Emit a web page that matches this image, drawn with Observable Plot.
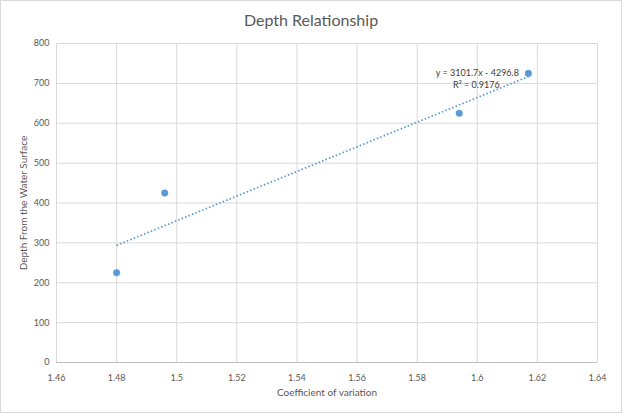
<!DOCTYPE html>
<html><head><meta charset="utf-8">
<script src="https://cdn.jsdelivr.net/npm/d3@7"></script>
<script src="https://cdn.jsdelivr.net/npm/@observablehq/plot@0.6"></script>
<style>
html,body{margin:0;padding:0;background:#fff;}
#wrap{width:622px;height:413px;box-sizing:border-box;border:1px solid #d9d9d9;position:relative;overflow:hidden;font-family:Lato,"Open Sans",sans-serif;}
#title{height:34px;line-height:38px;text-align:center;font-size:16px;color:#595959;}
</style></head>
<body><div id="wrap"><div id="title">Depth Relationship</div><div id="chart"></div></div>
<script>
const coeffVariation = [1.48, 1.496, 1.594, 1.617];
const depth = [225, 425, 625, 725];
const xTicks = [1.46, 1.48, 1.5, 1.52, 1.54, 1.56, 1.58, 1.6, 1.62, 1.64];
const yTicks = [0, 100, 200, 300, 400, 500, 600, 700, 800];
const equationLabel = "y = 3101.7x - 4296.8";
const r2Label = "R² = 0.9176";

const data = coeffVariation.map((x, i) => ({x, y: depth[i]}));
const last = [data[data.length - 1]];
const fmtX = d => String(+d.toFixed(2));

const chart = Plot.plot({
  width: 620, height: 377,
  marginTop: 8, marginBottom: 50, marginLeft: 55, marginRight: 24,
  style: {fontFamily: "Lato, 'Open Sans', sans-serif", fontSize: "9px", color: "#595959", background: "#fff"},
  x: {domain: [1.46, 1.64], ticks: xTicks, tickFormat: fmtX, label: null},
  y: {domain: [0, 800], ticks: yTicks, label: null},
  marks: [
    Plot.gridX(xTicks, {stroke: "#d9d9d9", strokeOpacity: 1}),
    Plot.gridY(yTicks, {stroke: "#d9d9d9", strokeOpacity: 1}),
    Plot.ruleY([0], {stroke: "#bfbfbf"}),
    Plot.axisX(xTicks, {tickSize: 0, tickPadding: 12, tickFormat: fmtX, fill: "#595959"}),
    Plot.axisY(yTicks, {tickSize: 0, tickPadding: 7, fill: "#595959"}),
    Plot.linearRegressionY(data, {x: "x", y: "y", ci: 0, stroke: "#5b9bd5", strokeWidth: 1.8, strokeDasharray: "1.5,2.2", strokeLinecap: "butt"}),
    Plot.dot(data, {x: "x", y: "y", r: 3.3, fill: "#5b9bd5", stroke: "#5b9bd5", strokeWidth: 0.5}),
    Plot.text(last, {x: "x", y: "y", text: () => equationLabel, dx: -51, dy: 0, fontSize: 9, fill: "#404040"}),
    Plot.text(last, {x: "x", y: "y", text: () => r2Label, dx: -52, dy: 12, fontSize: 9, fill: "#404040"}),
    Plot.text(["Coefficient of variation"], {frameAnchor: "bottom", dy: 33, text: d => d, fontSize: 10, fill: "#595959"}),
    Plot.text(["Depth From the Water Surface"], {frameAnchor: "left", textAnchor: "middle", dx: -33, rotate: -90, text: d => d, fontSize: 10, fill: "#595959"})
  ]
});
document.getElementById("chart").appendChild(chart);
</script></body></html>
